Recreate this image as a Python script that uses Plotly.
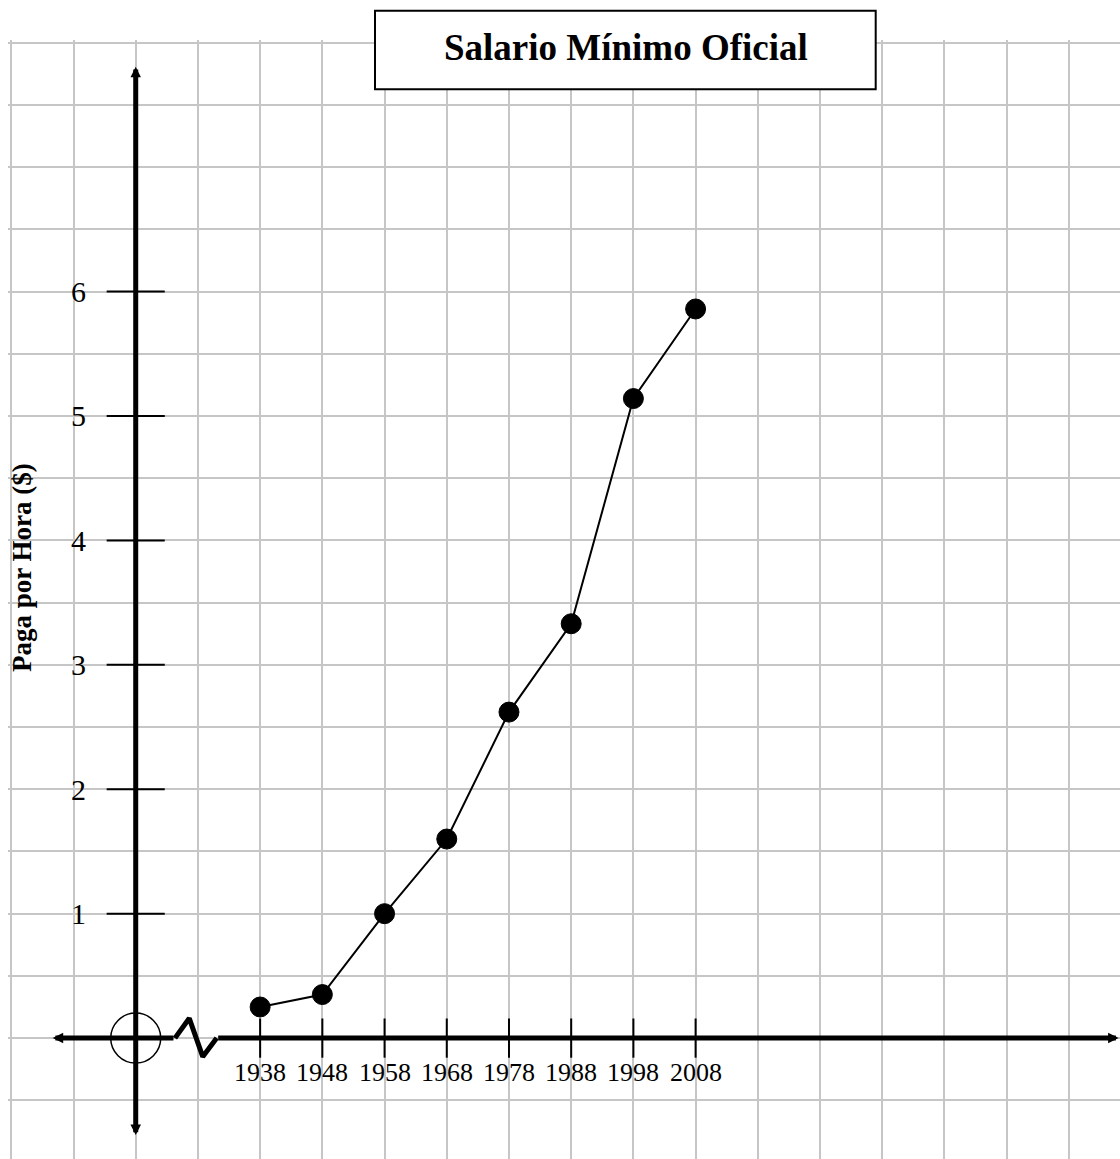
import plotly.graph_objects as go

# ---------------- data ----------------
years = [1938, 1948, 1958, 1968, 1978, 1988, 1998, 2008]
wage = [0.25, 0.35, 1.00, 1.60, 2.62, 3.33, 5.14, 5.86]
year_labels = ["1938", "1948", "1958", "1968", "1978", "1988", "1998", "2008"]
y_ticks = [1, 2, 3, 4, 5, 6]
y_tick_labels = ["1", "2", "3", "4", "5", "6"]

title_text = "Salario Mínimo Oficial"
y_title_text = "Paga por Hora ($)"

# ---------------- geometry / style ----------------
W, H = 1120, 1159
FONT = "Liberation Serif"
GRID = "#c6c6c6"

X_ORIGIN = 1918                 # where the vertical axis crosses
X_RANGE = [1897.47, 2076.22]
Y_RANGE = [-0.9717, 8.0217]
X_DOMAIN = [8 / W, 1]
Y_DOMAIN = [0, (H - 40) / H]

# axis decorations (data units)
X_LEFT_TIP, X_RIGHT_TIP = 1904.65, 2076.0
Y_TOP_TIP, Y_BOTTOM_TIP = 7.807, -0.779
BREAK_X = [1924.31, 1926.61, 1928.77, 1931.02]
BREAK_Y = [0, 0.159, -0.149, 0]
CIRC_RX, CIRC_RY = 4.02, 0.201
AXIS_W = 5

fig = go.Figure()

# x tick marks (crossing the axis)
fig.add_trace(go.Scatter(
    x=years, y=[0] * len(years), mode="markers",
    marker=dict(symbol="line-ns-open", size=28, color="black",
                line=dict(color="black", width=2)),
    hoverinfo="skip", showlegend=False, cliponaxis=False))

# y tick marks (crossing the axis)
fig.add_trace(go.Scatter(
    x=[X_ORIGIN] * len(y_ticks), y=y_ticks, mode="markers",
    marker=dict(symbol="line-ew-open", size=41.5, color="black",
                line=dict(color="black", width=2)),
    hoverinfo="skip", showlegend=False, cliponaxis=False))

# axis break zigzag
fig.add_trace(go.Scatter(
    x=BREAK_X, y=BREAK_Y, mode="lines",
    line=dict(color="black", width=AXIS_W),
    hoverinfo="skip", showlegend=False, cliponaxis=False))

# data series
fig.add_trace(go.Scatter(
    x=years, y=wage, mode="lines+markers",
    line=dict(color="black", width=2),
    marker=dict(size=20, color="black", line=dict(color="black", width=1)),
    showlegend=False, cliponaxis=False))

annotations = []


def arrow(tail_x, tail_y, tip_x, tip_y):
    return dict(x=tip_x, y=tip_y, ax=tail_x, ay=tail_y,
                xref="x", yref="y", axref="x", ayref="y",
                text="", showarrow=True, arrowhead=2, arrowsize=0.42,
                arrowwidth=AXIS_W, arrowcolor="black", standoff=0)


annotations.append(arrow(X_ORIGIN, 0, X_ORIGIN, Y_TOP_TIP))
annotations.append(arrow(X_ORIGIN, 0, X_ORIGIN, Y_BOTTOM_TIP))
annotations.append(arrow(BREAK_X[0], 0, X_LEFT_TIP, 0))
annotations.append(arrow(BREAK_X[-1], 0, X_RIGHT_TIP, 0))

# x tick labels
for yr, lab in zip(years, year_labels):
    annotations.append(dict(x=yr, y=0, xref="x", yref="y", text=lab,
                            showarrow=False, xanchor="center", yanchor="top",
                            yshift=-18,
                            font=dict(family=FONT, size=26, color="black")))

# y tick labels
for v, lab in zip(y_ticks, y_tick_labels):
    annotations.append(dict(x=X_ORIGIN, y=v, xref="x", yref="y", text=lab,
                            showarrow=False, xanchor="right", yanchor="middle",
                            xshift=-48,
                            font=dict(family=FONT, size=30, color="black")))

# title
annotations.append(dict(x=625.5 / W, y=1 - 47 / H, xref="paper", yref="paper",
                        text="<b>" + title_text + "</b>", showarrow=False,
                        xanchor="center", yanchor="middle",
                        font=dict(family=FONT, size=37, color="black")))

# y axis title
annotations.append(dict(x=22 / W, y=1 - 568 / H, xref="paper", yref="paper",
                        text="<b>" + y_title_text + "</b>", showarrow=False,
                        textangle=-90, xanchor="center", yanchor="middle",
                        font=dict(family=FONT, size=27, color="black")))

shapes = [
    # origin circle
    dict(type="circle", xref="x", yref="y",
         x0=X_ORIGIN - CIRC_RX, x1=X_ORIGIN + CIRC_RX,
         y0=-CIRC_RY, y1=CIRC_RY,
         line=dict(color="black", width=1.5)),
    # title box
    dict(type="rect", xref="paper", yref="paper",
         x0=375 / W, x1=875.7 / W, y0=1 - 89.3 / H, y1=1 - 10.7 / H,
         line=dict(color="black", width=2), fillcolor="white", layer="above"),
]

fig.update_layout(
    width=W, height=H,
    margin=dict(l=0, r=0, t=0, b=0, pad=0),
    paper_bgcolor="white", plot_bgcolor="white",
    showlegend=False,
    xaxis=dict(domain=X_DOMAIN, range=X_RANGE, tick0=1898, dtick=10,
               showgrid=True, gridcolor=GRID, gridwidth=2,
               showticklabels=False, ticks="", zeroline=False,
               showline=False, fixedrange=True),
    yaxis=dict(domain=Y_DOMAIN, range=Y_RANGE, tick0=0, dtick=0.5,
               showgrid=True, gridcolor=GRID, gridwidth=2,
               showticklabels=False, ticks="", zeroline=False,
               showline=False, fixedrange=True),
    annotations=annotations,
    shapes=shapes,
    font=dict(family=FONT, color="black"),
)

fig.write_html("out.html", config={"displayModeBar": False},
               post_script="document.body.style.margin='0';")
